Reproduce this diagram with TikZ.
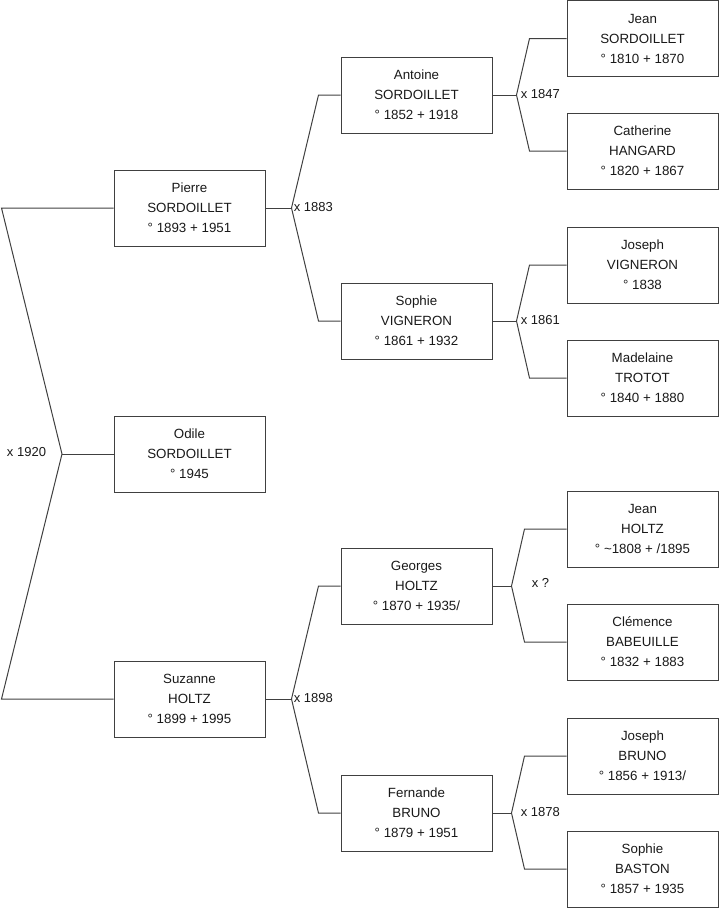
\documentclass[tikz,border=0pt]{standalone}
\usepackage{fontspec}
\setmainfont{Liberation Sans}
\usetikzlibrary{calc}
\begin{document}
\begin{tikzpicture}[x=0.75pt,y=-0.75pt,
  person/.style={draw=black!75, line width=0.75pt, minimum width=113.25pt, minimum height=57pt, inner sep=0pt, align=center, font=\fontsize{10}{15}\selectfont, text=black!90},
  link/.style={draw=black!75, line width=0.75pt},
  marr/.style={font=\fontsize{9.75}{11}\selectfont, inner sep=0pt, text=black!90}]
\useasboundingbox (0,0) rectangle (719,908);
% generation 1
\node[person] (pierre)  at (189.5,208) {Pierre\\SORDOILLET\\° 1893 + 1951};
\node[person] (odile)   at (189.5,454) {Odile\\SORDOILLET\\° 1945};
\node[person] (suzanne) at (189.5,699) {Suzanne\\HOLTZ\\° 1899 + 1995};
% generation 2
\node[person] (antoine)  at (416.5,95)  {Antoine\\SORDOILLET\\° 1852 + 1918};
\node[person] (sophiev)  at (416.5,321) {Sophie\\VIGNERON\\° 1861 + 1932};
\node[person] (georges)  at (416.5,586) {Georges\\HOLTZ\\° 1870 + 1935/};
\node[person] (fernande) at (416.5,813) {Fernande\\BRUNO\\° 1879 + 1951};
% generation 3
\node[person] (jeans)     at (642.5,38.5) {Jean\\SORDOILLET\\° 1810 + 1870};
\node[person] (catherine) at (642.5,151) {Catherine\\HANGARD\\° 1820 + 1867};
\node[person] (josephv)   at (642.5,265) {Joseph\\VIGNERON\\° 1838};
\node[person] (madelaine) at (642.5,378) {Madelaine\\TROTOT\\° 1840 + 1880};
\node[person] (jeanh)     at (642.5,529) {Jean\\HOLTZ\\° \textasciitilde 1808 + /1895};
\node[person] (clemence)  at (642.5,642) {Clémence\\BABEUILLE\\° 1832 + 1883};
\node[person] (josephb)   at (642.5,756) {Joseph\\BRUNO\\° 1856 + 1913/};
\node[person] (sophieb)   at (642.5,869) {Sophie\\BASTON\\° 1857 + 1935};
% root couple
\coordinate (v1920) at (62,454);
\draw[link] (pierre.west) -- ++(-112,0) -- (v1920) -- ($(suzanne.west)+(-112,0)$) -- (suzanne.west);
\draw[link] (v1920) -- (odile.west);
\node[marr] (m1920) at (26.5,452) {x 1920};
% gen 2 couples
\coordinate (v1883) at ($(pierre.east)+(26,0)$);
\draw[link] (pierre.east) -- (v1883);
\draw[link] (antoine.west) -- ++(-22,0) -- (v1883) -- ($(sophiev.west)+(-22,0)$) -- (sophiev.west);
\node[marr, anchor=west] (m1883) at ($(v1883)+(2,-1)$) {x 1883};
\coordinate (v1898) at ($(suzanne.east)+(26,0)$);
\draw[link] (suzanne.east) -- (v1898);
\draw[link] (georges.west) -- ++(-22,0) -- (v1898) -- ($(fernande.west)+(-22,0)$) -- (fernande.west);
\node[marr, anchor=west] (m1898) at ($(v1898)+(2,-1)$) {x 1898};
% gen 3 couples
\coordinate (v1847) at ($(antoine.east)+(24,0)$);
\draw[link] (antoine.east) -- (v1847);
\draw[link] (jeans.west) -- ++(-37,0) -- (v1847) -- ($(catherine.west)+(-37,0)$) -- (catherine.west);
\node[marr, anchor=west] (m1847) at ($(v1847)+(4,-1)$) {x 1847};
\coordinate (v1861) at ($(sophiev.east)+(24,0)$);
\draw[link] (sophiev.east) -- (v1861);
\draw[link] (josephv.west) -- ++(-37,0) -- (v1861) -- ($(madelaine.west)+(-37,0)$) -- (madelaine.west);
\node[marr, anchor=west] (m1861) at ($(v1861)+(4,-1)$) {x 1861};
\coordinate (vq) at ($(georges.east)+(19,0)$);
\draw[link] (georges.east) -- (vq);
\draw[link] (jeanh.west) -- ++(-42,0) -- (vq) -- ($(clemence.west)+(-42,0)$) -- (clemence.west);
\node[marr, anchor=west] (mq) at ($(vq)+(20,-3)$) {x ?};
\coordinate (v1878) at ($(fernande.east)+(19,0)$);
\draw[link] (fernande.east) -- (v1878);
\draw[link] (josephb.west) -- ++(-42,0) -- (v1878) -- ($(sophieb.west)+(-42,0)$) -- (sophieb.west);
\node[marr, anchor=west] (m1878) at ($(v1878)+(9,-1)$) {x 1878};
\end{tikzpicture}
\end{document}
